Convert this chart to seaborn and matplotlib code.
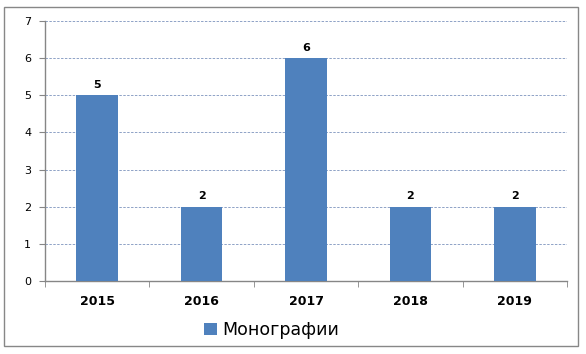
import matplotlib
matplotlib.use("Agg")
import matplotlib.pyplot as plt
import seaborn as sns
import pandas as pd
from matplotlib.patches import Rectangle, Patch

years = ["2015", "2016", "2017", "2018", "2019"]
counts = [5, 2, 6, 2, 2]
series_name = "Монографии"

df = pd.DataFrame({"year": years, "count": counts})

sns.set_style("white")
plt.rcParams['font.family'] = ['DejaVu Sans']
plt.rcParams['text.color'] = 'black'
plt.rcParams['xtick.color'] = 'black'
plt.rcParams['ytick.color'] = 'black'

fig = plt.figure(figsize=(5.86, 3.54), dpi=100)
ax = fig.add_axes([45 / 586, 1 - 281 / 354, 522 / 586, 260 / 354])

sns.barplot(data=df, x="year", y="count", color="#4F81BD", saturation=1,
            width=0.4, ax=ax, zorder=3, linewidth=0)

ax.set_xlim(-0.5, 4.5)
ax.set_ylim(0, 7)
ax.set_yticks(range(0, 8))
ax.yaxis.grid(True, linestyle=(0, (2.5, 1.5)), color="#8EA2C6", linewidth=0.7, zorder=0)
ax.set_axisbelow(True)

for i, v in enumerate(counts):
    ax.text(i, v + 0.15, str(v), ha="center", va="bottom", fontsize=8, fontweight="bold")

ax.set_xlabel("")
ax.set_ylabel("")
ax.set_xticks(range(len(years)))
ax.set_xticklabels(years, fontsize=9, fontweight="bold")
ax.tick_params(axis="x", length=0, pad=10)
# tick marks between categories
ax.set_xticks([x - 0.5 for x in range(len(years) + 1)], minor=True)
ax.tick_params(axis="x", which="minor", length=4, direction="out", color="#868686", bottom=True)
ax.tick_params(axis="y", length=4, direction="out", color="#868686", labelsize=8, pad=6, left=True)

for s in ["top", "right"]:
    ax.spines[s].set_visible(False)
for s in ["left", "bottom"]:
    ax.spines[s].set_color("#868686")
    ax.spines[s].set_linewidth(1)

handle = Patch(facecolor="#4F81BD", edgecolor="none")
fig.legend([handle], [series_name], loc="center", bbox_to_anchor=(272 / 586, 1 - 330 / 354),
           frameon=False, fontsize=12.5, handlelength=0.7, handleheight=0.7,
           handletextpad=0.35)

fig.patches.append(Rectangle((4 / 586, 1 - 346 / 354), 574 / 586, 339 / 354,
                             transform=fig.transFigure, fill=False,
                             edgecolor="#878787", linewidth=1))

fig.savefig("out.png", dpi=100)
